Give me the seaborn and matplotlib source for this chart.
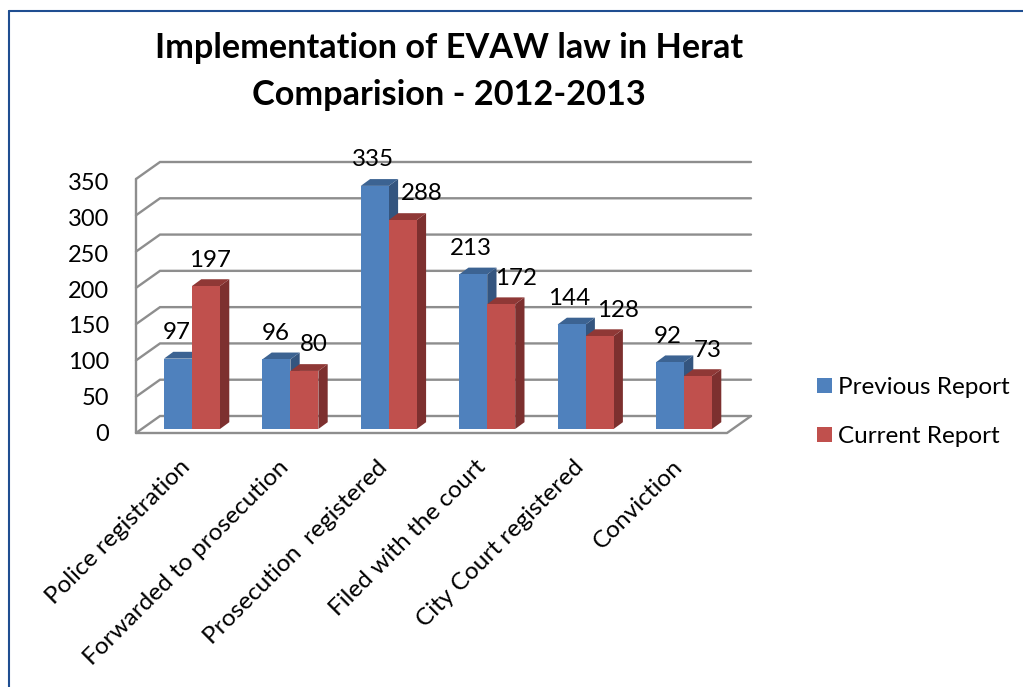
import pandas as pd
import seaborn as sns
import matplotlib.pyplot as plt
from matplotlib.lines import Line2D
from matplotlib.patches import Polygon
from matplotlib.transforms import ScaledTranslation

categories = ["Police registration", "Forwarded to prosecution", "Prosecution  registered",
              "Filed with the court", "City Court registered", "Conviction"]
previous_report = [97, 96, 335, 213, 144, 92]
current_report = [197, 80, 288, 172, 128, 73]
y_ticks = [0, 50, 100, 150, 200, 250, 300, 350]

df = pd.DataFrame({
    "category": categories * 2,
    "count": previous_report + current_report,
    "series": ["Previous Report"] * 6 + ["Current Report"] * 6,
})

sns.set_theme(style="white")
plt.rcParams["font.family"] = ["Lato", "DejaVu Sans"]

BLUE, RED = "#4F81BD", "#C0504D"
SHADES = {0: ("#34557F", "#3C6392"), 1: ("#7D302F", "#8F3836")}
GRID = "#8E8E8E"
W, H = 1023, 687

fig = plt.figure(figsize=(W / 100, H / 100), dpi=100)
ax = fig.add_axes([136 / W, (H - 429) / H, 591 / W, 254 / H])

sns.barplot(data=df, x="category", y="count", hue="series", palette=[BLUE, RED],
            width=0.569, gap=0, saturation=1, linewidth=0, ax=ax, zorder=3)
ax.set_xlim(-0.569, 5.437)
ax.set_ylim(0, 350)
ax.set_xlabel("")
ax.set_ylabel("")
sns.despine(ax=ax, left=True, bottom=True)
ax.patch.set_alpha(0)

# pixels -> data units
px_x = 1 / 98.4
px_y = 350 / 254


def front(v):
    return v - 4 * px_y


def back(v):
    return v + 13 * px_y


# fake 3d walls
x_left, x_right = -0.569, 5.437
x_left_back, x_right_back = x_left + 24 * px_x, x_right + 24 * px_x
for v in y_ticks:
    ax.plot([x_left, x_left_back, x_right_back], [front(v), back(v), back(v)],
            color=GRID, lw=1.7, clip_on=False, zorder=1, solid_joinstyle="miter")
ax.plot([x_left, x_left], [front(0), front(350)], color=GRID, lw=1.7, clip_on=False, zorder=1)
ax.plot([x_left, x_right, x_right_back], [front(0), front(0), back(0)],
        color=GRID, lw=1.7, clip_on=False, zorder=1)

# fake 3d bar sides, and the value labels
dx, dy = 9.3 * px_x, 6.8 * px_y
label_shift = [[-1, -1, -2, -2, -2, -2], [4, 9, 19, 15, 18, 10]]
for i, container in enumerate(ax.containers):
    side, top = SHADES[i]
    for j, bar in enumerate(container):
        x0, w, h = bar.get_x(), bar.get_width(), bar.get_height()
        x1 = x0 + w
        ax.add_patch(Polygon([(x1, 0), (x1 + dx, dy), (x1 + dx, h + dy), (x1, h)],
                             facecolor=side, edgecolor="none", clip_on=False, zorder=2 + i * 0.2))
        ax.add_patch(Polygon([(x0, h), (x0 + dx, h + dy), (x1 + dx, h + dy), (x1, h)],
                             facecolor=top, edgecolor="none", clip_on=False, zorder=2.1 + i * 0.2))
        ax.annotate(str(int(h)), (x0 + w / 2, h), xytext=(label_shift[i][j] * 0.72, 26 * 0.72),
                    textcoords="offset points", ha="center", va="center",
                    fontsize=17.4, color="black", zorder=5, annotation_clip=False)

ax.set_yticks(y_ticks)
ax.tick_params(axis="y", length=0, pad=19.4, labelsize=17, labelcolor="black")
ax.tick_params(axis="x", length=0, pad=25, labelsize=17.6, labelcolor="black")
for v, lab in zip(y_ticks, ax.get_yticklabels()):
    shift = 3.5 + 3 * v / 350
    lab.set_transform(lab.get_transform() + ScaledTranslation(0, -shift / 100, fig.dpi_scale_trans))
ax.set_xticks(range(6))
ax.set_xticklabels(categories, rotation=45, ha="right", rotation_mode="anchor", va="center")
for lab in ax.get_xticklabels():
    lab.set_transform(lab.get_transform() + ScaledTranslation(-5 / 100, 0, fig.dpi_scale_trans))

handles, labels = ax.get_legend_handles_labels()
ax.legend(handles, labels, loc="upper left", bbox_to_anchor=(817 / W, (H - 377) / H),
          bbox_transform=fig.transFigure, frameon=False, fontsize=17.5, labelcolor="black",
          handlelength=0.62, handleheight=0.62, handletextpad=0.25, labelspacing=1.15,
          borderpad=0, borderaxespad=0)

fig.text(449 / W, (H - 71.5) / H, "Implementation of EVAW law in Herat\nComparision - 2012-2013",
         ha="center", va="center", fontsize=24.7, fontweight="bold", color="black", linespacing=1.56)

# frame of the slide, only left and top are in view
fig.add_artist(Line2D([8.5 / W, 8.5 / W], [0, (H - 10.5) / H], color="#1F4E91", lw=1.5))
fig.add_artist(Line2D([8.5 / W, 1], [(H - 10.5) / H, (H - 10.5) / H], color="#1F4E91", lw=1.5))

fig.savefig("out.png", dpi=100)
